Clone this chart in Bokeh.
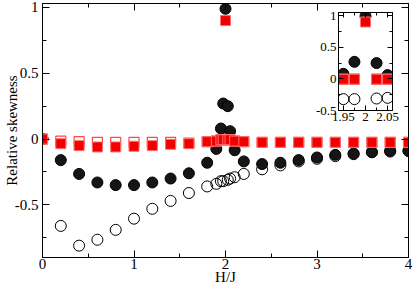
from bokeh.plotting import figure
from bokeh.layouts import column
from bokeh.models import (LinearAxis, SingleIntervalTicker, FixedTicker,
                          CustomJSTickFormatter, Range1d, ColumnDataSource)
from bokeh.embed import file_html
from bokeh.resources import INLINE

# ---------------- data ----------------
h_filled = [0, 0.2, 0.4, 0.6, 0.8, 1.0, 1.2, 1.4, 1.6, 1.8, 1.9, 1.95, 1.975,
            2.0, 2.025, 2.05, 2.1, 2.2, 2.4, 2.6, 2.8, 3.0, 3.2, 3.4, 3.6, 3.8, 4.0]
black_filled = [0, -0.16, -0.265, -0.33, -0.35, -0.35, -0.33, -0.30, -0.26, -0.18,
                -0.075, 0.08, 0.27, 0.99, 0.25, 0.06, -0.085, -0.17, -0.19, -0.18,
                -0.16, -0.14, -0.12, -0.11, -0.10, -0.09, -0.09]
red_filled = [0, -0.035, -0.05, -0.06, -0.06, -0.055, -0.05, -0.04, -0.035, -0.02,
              -0.015, -0.005, -0.005, 0.9, -0.005, -0.005, -0.015, -0.02, -0.025,
              -0.025, -0.025, -0.025, -0.025, -0.025, -0.025, -0.025, -0.025]

h_open = [0, 0.2, 0.4, 0.6, 0.8, 1.0, 1.2, 1.4, 1.6, 1.8, 1.9, 1.95, 1.975,
          2.025, 2.05, 2.1, 2.2, 2.4, 2.6, 2.8, 3.0, 3.2, 3.4, 3.6, 3.8, 4.0]
black_open = [0, -0.66, -0.81, -0.765, -0.69, -0.605, -0.53, -0.47, -0.41, -0.36,
              -0.34, -0.32, -0.32, -0.31, -0.30, -0.29, -0.265, -0.23, -0.20, -0.17,
              -0.15, -0.13, -0.115, -0.10, -0.095, -0.09]
red_open = [0, -0.015, -0.02, -0.025, -0.025, -0.025, -0.025, -0.025, -0.03, -0.02,
            -0.015, -0.005, -0.005, -0.005, -0.005, -0.015, -0.02, -0.025, -0.025,
            -0.025, -0.025, -0.025, -0.025, -0.025, -0.025, -0.025]

main_xticks_interval = 1
main_yticks_interval = 0.5
inset_xticks = [1.95, 2.0, 2.05]
inset_xminor = [1.975, 2.025]

FONT = "'Liberation Serif'"
fmt_code = "return String(Math.round(tick*1000)/1000);"
blank_code = "return '';"

filled_src = ColumnDataSource(dict(h=h_filled, b=black_filled, r=red_filled))
open_src = ColumnDataSource(dict(h=h_open, b=black_open, r=red_open))


def draw_series(fig, size):
    fig.scatter("h", "b", source=open_src, marker="circle", size=size,
                fill_color=None, line_color="black", line_width=1)
    fig.scatter("h", "b", source=filled_src, marker="circle", size=size,
                fill_color="#151515", line_color="black", line_width=1)
    fig.scatter("h", "r", source=open_src, marker="square", size=size - 1,
                fill_color="white", line_color="#ff4848", line_width=1.2)
    fig.scatter("h", "r", source=filled_src, marker="square", size=size - 1,
                fill_color="#f20000", line_color="#ff7070", line_width=1)


def style_axes(fig, font_size, tick_major, tick_minor):
    for ax in fig.axis:
        ax.axis_line_color = "black"
        ax.axis_line_width = 1
        ax.major_tick_in = tick_major
        ax.major_tick_out = 0
        ax.minor_tick_in = tick_minor
        ax.minor_tick_out = 0
        ax.major_tick_line_color = "black"
        ax.minor_tick_line_color = "black"
        ax.major_label_text_font = FONT
        ax.major_label_text_font_size = font_size
        ax.major_label_text_color = "black"
        ax.axis_label_text_font = FONT
        ax.axis_label_text_font_size = "15px"
        ax.axis_label_text_font_style = "normal"
        ax.axis_label_text_color = "black"
        ax.major_label_standoff = 2


def mirror(ax):
    ax.formatter = CustomJSTickFormatter(code=blank_code)
    ax.major_label_standoff = -30
    ax.major_label_text_font_size = "1px"


# ---------------- main plot ----------------
p = figure(width=415, height=287, output_backend="svg", toolbar_location=None,
           x_range=Range1d(0, 4), y_range=Range1d(-0.9, 1.03),
           min_border_left=42, min_border_right=7, min_border_top=3, min_border_bottom=30)
p.grid.visible = False
p.outline_line_color = "black"
p.background_fill_color = "white"
p.border_fill_color = "white"

draw_series(p, 11)

xt = SingleIntervalTicker(interval=main_xticks_interval, num_minor_ticks=2)
yt = SingleIntervalTicker(interval=main_yticks_interval, num_minor_ticks=2)
p.xaxis.ticker = xt
p.yaxis.ticker = yt
p.xaxis.formatter = CustomJSTickFormatter(code=fmt_code)
p.yaxis.formatter = CustomJSTickFormatter(code=fmt_code)
p.xaxis.axis_label = "H/J"
p.yaxis.axis_label = "Relative skewness"

top_ax = LinearAxis(ticker=xt)
right_ax = LinearAxis(ticker=yt)
p.add_layout(top_ax, "above")
p.add_layout(right_ax, "right")
style_axes(p, "15px", 7, 4)
mirror(top_ax)
mirror(right_ax)
p.below[0].axis_label_standoff = -3
p.below[0].major_label_standoff = 1
p.left[0].axis_label_standoff = -8
p.left[0].major_label_standoff = 4

# ---------------- inset ----------------
ins = figure(width=103, height=121, output_backend="svg", toolbar_location=None,
             x_range=Range1d(1.939, 2.061), y_range=Range1d(-0.5, 1.05),
             min_border_left=24, min_border_right=1, min_border_top=6, min_border_bottom=17)
ins.grid.visible = False
ins.outline_line_color = "black"
ins.background_fill_color = "white"
ins.border_fill_alpha = 0
draw_series(ins, 11)
ixt = FixedTicker(ticks=inset_xticks, minor_ticks=inset_xminor)
iyt = SingleIntervalTicker(interval=main_yticks_interval, num_minor_ticks=2)
ins.xaxis.ticker = ixt
ins.yaxis.ticker = iyt
ins.xaxis.formatter = CustomJSTickFormatter(code=fmt_code)
ins.yaxis.formatter = CustomJSTickFormatter(code=fmt_code)
itop = LinearAxis(ticker=ixt)
iright = LinearAxis(ticker=iyt)
ins.add_layout(itop, "above")
ins.add_layout(iright, "right")
style_axes(ins, "13px", 5, 3)
mirror(itop)
mirror(iright)
for ax in ins.axis:
    ax.major_tick_in = 5
    ax.minor_tick_in = 3
ins.styles = {"position": "absolute", "left": "296px", "top": "6px"}

layout = column(p, ins)
open("out.html", "w").write(file_html(layout, INLINE))
